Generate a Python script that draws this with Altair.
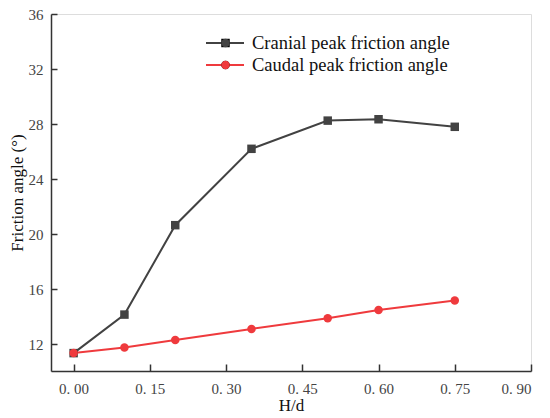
import altair as alt
import pandas as pd

hd = [0.0, 0.1, 0.2, 0.35, 0.5, 0.6, 0.75]
cranial = [11.35, 14.15, 20.65, 26.2, 28.25, 28.35, 27.8]
caudal = [11.35, 11.75, 12.31, 13.11, 13.89, 14.49, 15.17]
series_names = ["Cranial peak friction angle", "Caudal peak friction angle"]
colors = ["#424242", "#ef3a3d"]
x_ticks = [0.0, 0.15, 0.30, 0.45, 0.60, 0.75, 0.90]
y_ticks = [12, 16, 20, 24, 28, 32, 36]

rows = []
for name, vals in zip(series_names, [cranial, caudal]):
    for x, y in zip(hd, vals):
        rows.append({"hd": x, "angle": y, "series": name, "s2": name})
df = pd.DataFrame(rows)

FONT = "Liberation Serif"

x_enc = alt.X(
    "hd:Q",
    scale=alt.Scale(domain=[-0.0445, 0.9], nice=False, zero=False),
    axis=alt.Axis(
        values=x_ticks, title="H/d", format=".2f",
        labelExpr="replace(datum.label, '.', '. ')",
        grid=False, tickSize={"expr": "-7"}, labelPadding=17,
        domainColor="#333", tickColor="#333", domainWidth=1.5, tickWidth=1.5,
        labelFont=FONT, labelFontSize=15, labelColor="#444",
        titleFont=FONT, titleFontSize=17, titleFontWeight="normal",
        titleColor="#111", titlePadding=1,
    ),
)
y_enc = alt.Y(
    "angle:Q",
    scale=alt.Scale(domain=[10.05, 36], nice=False, zero=False),
    axis=alt.Axis(
        values=y_ticks, title="Friction angle (°)",
        grid=False, tickSize={"expr": "-6"}, labelPadding=14,
        domainColor="#333", tickColor="#333", domainWidth=1.5, tickWidth=1.5,
        labelFont=FONT, labelFontSize=15, labelColor="#444",
        titleFont=FONT, titleFontSize=17, titleFontWeight="normal",
        titleColor="#111", titlePadding=2,
    ),
)

lines = alt.Chart(df).mark_line(strokeWidth=2).encode(
    x=x_enc, y=y_enc,
    color=alt.Color(
        "series:N",
        scale=alt.Scale(domain=series_names, range=colors),
        legend=alt.Legend(
            title=None, orient="none", legendX=154, legendY=18,
            symbolType="stroke", symbolSize=1444, symbolStrokeWidth=2,
            clipHeight=22, rowPadding=0, padding=0, labelOffset=7,
            labelLimit=0,
            labelFont=FONT, labelFontSize=18.5, labelColor="#111",
        ),
    ),
    detail="series:N",
)

points = alt.Chart(df).mark_point(filled=True, size=72, opacity=1).encode(
    x=x_enc, y=y_enc,
    shape=alt.Shape(
        "s2:N", sort=series_names,
        scale=alt.Scale(range=["square", "circle"]),
        legend=alt.Legend(
            title=None, orient="none", legendX=170, legendY=18,
            symbolSize=72, symbolStrokeWidth=0,
            clipHeight=22, rowPadding=0, padding=0,
            labelExpr="''", labelFontSize=1,
        ),
    ),
    fill=alt.Fill(
        "s2:N", sort=series_names,
        scale=alt.Scale(range=colors),
        legend=alt.Legend(
            title=None, orient="none", legendX=170, legendY=18,
            symbolSize=72, symbolStrokeWidth=0,
            clipHeight=22, rowPadding=0, padding=0,
            labelExpr="''", labelFontSize=1,
        ),
    ),
)

chart = (
    alt.layer(lines, points)
    .properties(
        width=480, height=357,
        padding={"left": 43, "top": 6, "right": 11, "bottom": 47},
        autosize=alt.AutoSizeParams(type="none"),
    )
    .configure_view(stroke=None)
    .configure(background="white")
)

chart.save("out.html", embed_options={"renderer": "svg", "actions": False})
